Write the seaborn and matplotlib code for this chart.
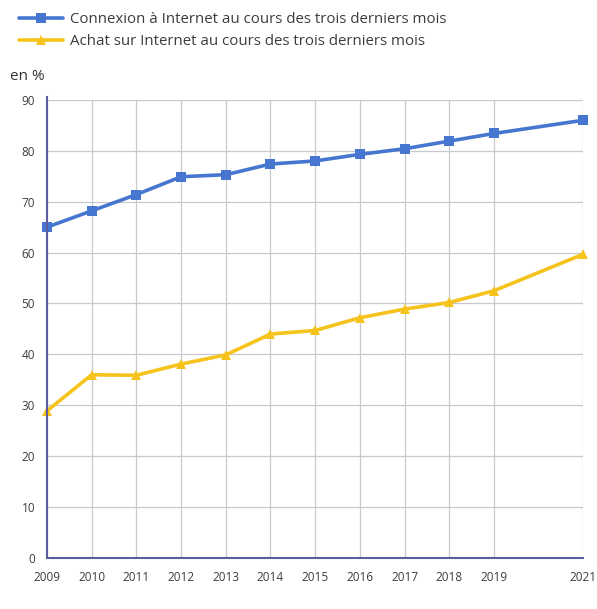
import pandas as pd
import matplotlib.pyplot as plt
import seaborn as sns

# Données
annees = [2009, 2010, 2011, 2012, 2013, 2014, 2015, 2016, 2017, 2018, 2019, 2021]
connexion = [65.0, 68.2, 71.4, 74.9, 75.3, 77.4, 78.0, 79.3, 80.4, 81.9, 83.4, 86.0]
achat = [28.9, 36.0, 35.9, 38.1, 39.9, 44.0, 44.7, 47.2, 48.9, 50.2, 52.5, 59.7]
y_ticks = [0, 10, 20, 30, 40, 50, 60, 70, 80, 90]

lab_connexion = "Connexion à Internet au cours des trois derniers mois"
lab_achat = "Achat sur Internet au cours des trois derniers mois"

df = pd.DataFrame({
    'annee': annees * 2,
    'valeur': connexion + achat,
    'serie': [lab_connexion] * len(annees) + [lab_achat] * len(annees),
})

sns.set_style('white')
plt.rcParams['font.family'] = ['Open Sans', 'DejaVu Sans']

fig = plt.figure(figsize=(5.97, 6.09), dpi=100)
ax = fig.add_axes([0.0787, 0.0837, 0.8985, 0.7523])

sns.lineplot(data=df, x='annee', y='valeur', hue='serie', style='serie',
             palette={lab_connexion: '#4676cf', lab_achat: '#f6c31c'},
             markers={lab_connexion: 's', lab_achat: '^'}, dashes=False,
             linewidth=2.6, markersize=7, markeredgewidth=0, ax=ax)
for ln in ax.lines:
    ln.set_clip_on(False)

ax.set_xlim(2009, 2021)
ax.set_ylim(0, 90)
ax.set_xticks(annees)
ax.set_yticks(y_ticks)
ax.tick_params(axis='both', labelsize=8.5, colors='#bbbbc8', labelcolor='#3c3c3c',
               length=5, width=1, direction='out')
ax.tick_params(axis='x', pad=4)
ax.grid(True, color='#c8c8d0', linewidth=0.9)
ax.set_xlabel('')
ax.set_ylabel('')

for s in ['top', 'right']:
    ax.spines[s].set_visible(False)
for s in ['left', 'bottom']:
    ax.spines[s].set_color('#5c5c9c')
    ax.spines[s].set_linewidth(1.5)
ax.spines['left'].set_bounds(0, 90.5)

ax.legend(loc='upper left', bbox_to_anchor=(-0.063, 1.205), frameon=False,
          fontsize=10.8, handlelength=2.9, handletextpad=0.5, labelspacing=0.5,
          labelcolor='#3c3c3c', borderaxespad=0)
fig.text(0.017, 0.868, 'en %', fontsize=11, color='#333333')

plt.savefig('out.png', dpi=100)
